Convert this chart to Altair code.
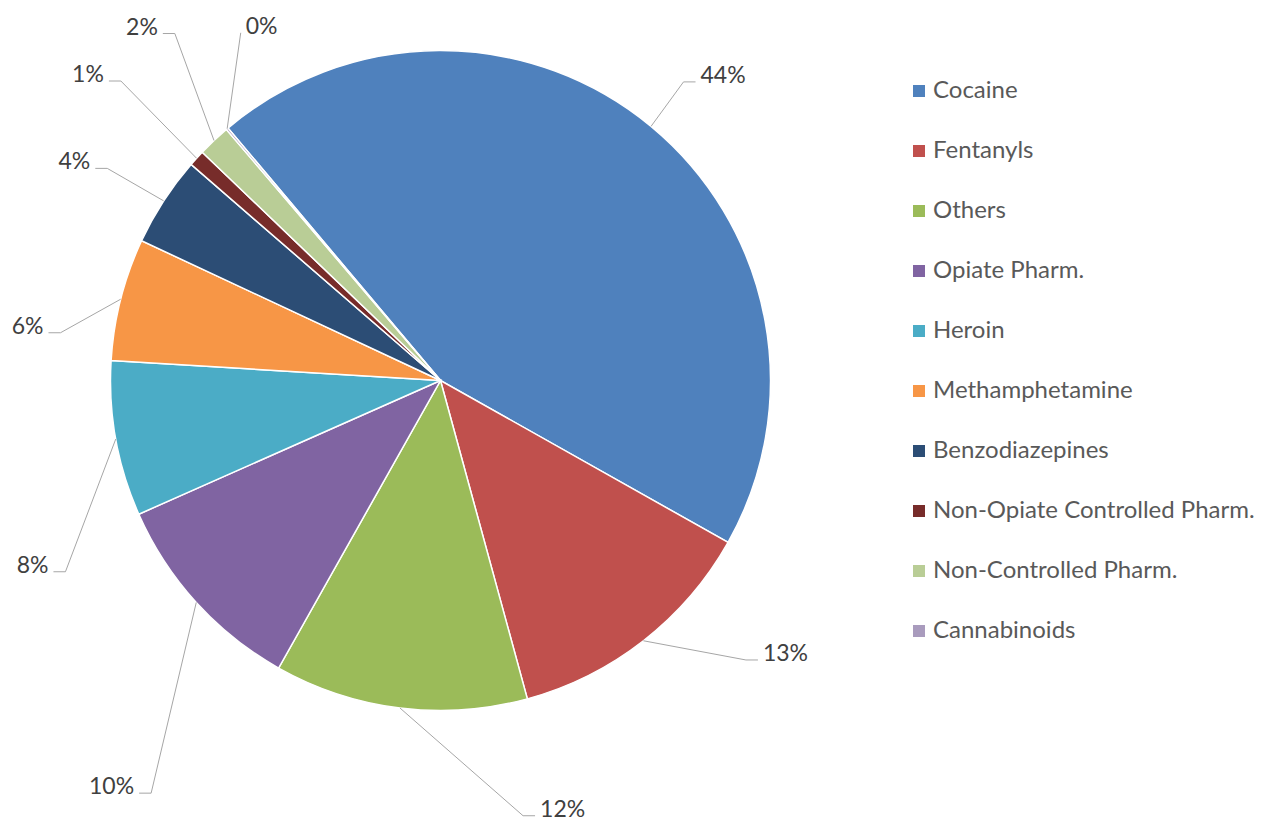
import math
import altair as alt
import pandas as pd

# ---------------- data ----------------
categories = ["Cocaine", "Fentanyls", "Others", "Opiate Pharm.", "Heroin",
              "Methamphetamine", "Benzodiazepines", "Non-Opiate Controlled Pharm.",
              "Non-Controlled Pharm.", "Cannabinoids"]
values = [44.3, 12.6, 12.4, 10.2, 7.6, 6.0, 4.4, 0.8, 1.6, 0.1]

# ---------------- styles / layout ----------------
colors = ["#4F81BD", "#C0504D", "#9BBB59", "#8064A2", "#4BACC6",
          "#F79646", "#2C4D75", "#772C2A", "#B9CD96", "#A99BBD"]
# Excel "best fit" label placement: angular shift of the leader elbow from the
# slice middle (degrees), distance of elbow from centre (px), label side, tail length
label_shift = [-0.5, -9.6, -17.8, -12.7, -16.8, -7.1, -0.5, 0.8, 5.9, 10.4]
label_dist = [385, 414, 443, 504, 421, 383, 395, 438, 437, 401]
label_side = [1, 1, 1, -1, -1, -1, -1, -1, -1, 1]
leader_tail = [12, 12, 12, 12, 12, 12, 12, 12, 12, 0]

W, H = 1249, 816
CX, CY, R = 432.5, 372.5, 330
START_DEG = 319.9
FONT = "Lato"

df = pd.DataFrame({
    "idx": list(range(len(categories))),
    "category": categories,
    "value": values,
    "shift": label_shift,
    "dist": label_dist,
    "side": label_side,
    "tail": leader_tail,
})

start_rad = math.radians(START_DEG)

pie = alt.Chart(df).mark_arc(radius=R, stroke="white", strokeWidth=1.5).encode(
    theta=alt.Theta("value:Q", stack=True,
                    scale=alt.Scale(range=[start_rad, start_rad + 2 * math.pi])),
    color=alt.Color(
        "category:N",
        sort=categories,
        scale=alt.Scale(domain=categories, range=colors),
        legend=alt.Legend(
            title=None, orient="none", legendX=899, legendY=71,
            symbolType="square", symbolSize=144, symbolStrokeWidth=0,
            labelFontSize=24, labelFont=FONT, labelColor="#595959",
            rowPadding=36, labelOffset=2, padding=0, labelLimit=500,
        ),
    ),
    order=alt.Order("idx:Q"),
    x=alt.value(CX),
    y=alt.value(CY),
)

geo = alt.Chart(df).transform_joinaggregate(
    total="sum(value)"
).transform_window(
    cum="sum(value)", sort=[alt.SortField("idx")], frame=[None, 0]
).transform_calculate(
    mid=f"{START_DEG} + 360 * (datum.cum - datum.value / 2) / datum.total",
).transform_calculate(
    ex=f"{CX} + {R} * sin(datum.mid * PI / 180)",
    ey=f"{CY} - {R} * cos(datum.mid * PI / 180)",
    bx=f"{CX} + datum.dist * sin((datum.mid + datum.shift) * PI / 180)",
    by=f"{CY} - datum.dist * cos((datum.mid + datum.shift) * PI / 180)",
).transform_calculate(
    tx="datum.bx + datum.side * datum.tail",
    lx="datum.bx + datum.side * (datum.tail + 5)",
    label="format(datum.value / datum.total, '.0%')",
)

lead1 = geo.mark_rule(color="#A6A6A6", strokeWidth=1).encode(
    x=alt.X("ex:Q", scale=None, axis=None),
    y=alt.Y("ey:Q", scale=None, axis=None),
    x2="bx:Q",
    y2="by:Q",
)
lead2 = geo.mark_rule(color="#A6A6A6", strokeWidth=1).encode(
    x=alt.X("bx:Q", scale=None, axis=None),
    y=alt.Y("by:Q", scale=None, axis=None),
    x2="tx:Q",
    y2="by:Q",
)
text_r = geo.transform_filter("datum.side > 0").mark_text(
    align="left", baseline="alphabetic", dy=1, font=FONT, fontSize=23, color="#404040"
).encode(
    x=alt.X("lx:Q", scale=None, axis=None),
    y=alt.Y("by:Q", scale=None, axis=None),
    text="label:N",
)
text_l = geo.transform_filter("datum.side < 0").mark_text(
    align="right", baseline="alphabetic", dy=1, font=FONT, fontSize=23, color="#404040"
).encode(
    x=alt.X("lx:Q", scale=None, axis=None),
    y=alt.Y("by:Q", scale=None, axis=None),
    text="label:N",
)

chart = alt.layer(pie, lead1, lead2, text_r, text_l).properties(
    width=W, height=H, padding=0, autosize=alt.AutoSizeParams(type="none"),
    background="white",
).configure_view(stroke=None)

chart.save("out.html", embed_options={"renderer": "svg", "actions": False})
